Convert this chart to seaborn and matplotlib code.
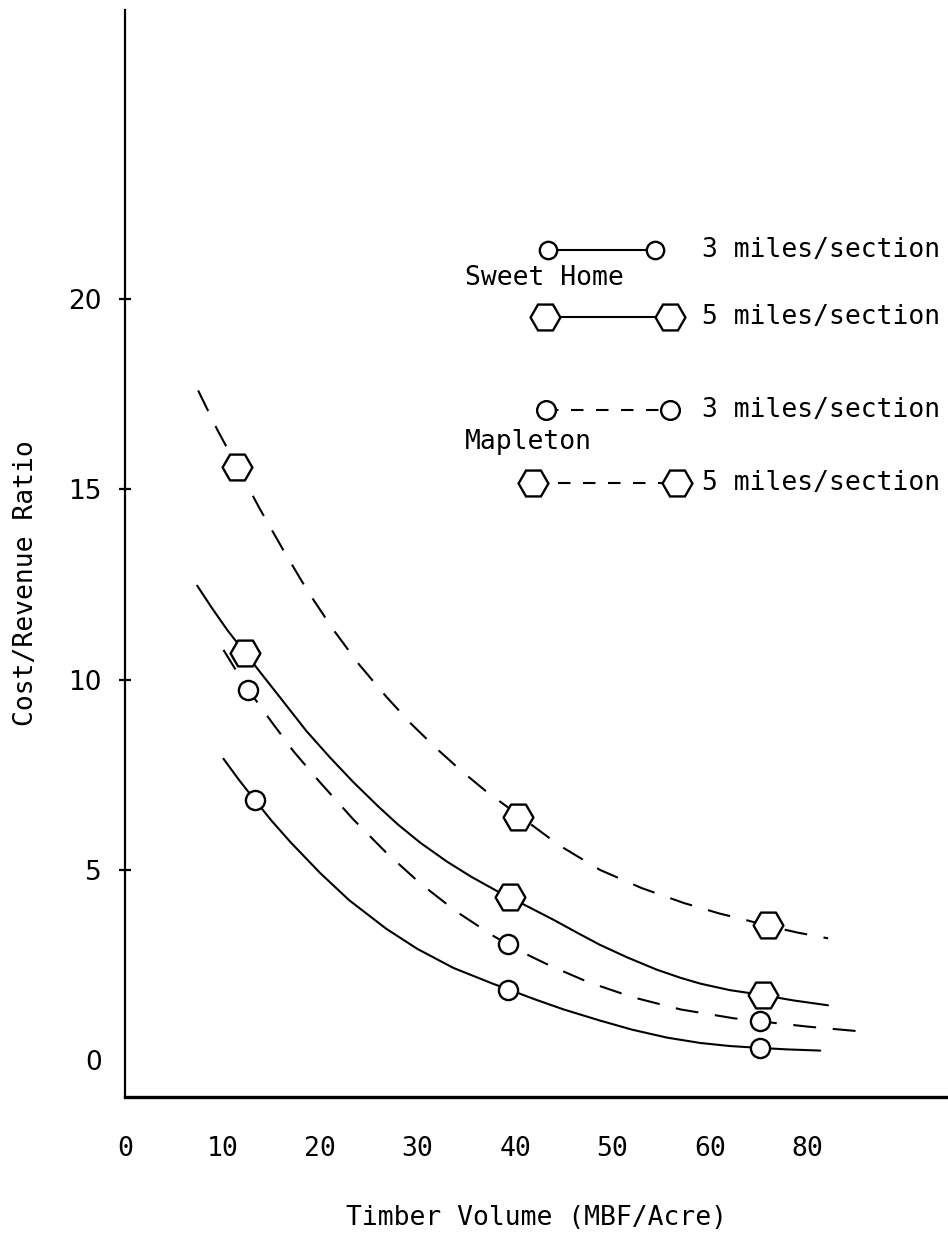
import numpy as np
import pandas as pd
import matplotlib
matplotlib.use("Agg")
import matplotlib.pyplot as plt
import seaborn as sns

# ---------------- data ----------------
# fitted curves, sampled along the drawn lines
sh3_curve_x = [10.1, 11.7, 13.3, 15.0, 17.0, 20.0, 23.0, 26.8, 30.0, 33.7, 37.8, 39.3,
               42.0, 45.0, 48.7, 52.0, 55.6, 59.0, 62.0, 65.1, 68.0, 71.3]
sh3_curve_y = [7.92, 7.36, 6.84, 6.30, 5.72, 4.92, 4.20, 3.45, 2.92, 2.42, 2.00, 1.86,
               1.60, 1.33, 1.04, 0.80, 0.59, 0.45, 0.37, 0.32, 0.28, 0.25]

sh5_curve_x = [7.4, 9.0, 10.5, 12.3, 14.0, 16.0, 18.6, 21.0, 23.4, 26.0, 28.0, 30.3,
               33.0, 35.5, 38.1, 39.5, 41.2, 44.0, 46.5, 48.7, 51.5, 54.5, 57.0, 59.0,
               62.0, 65.4, 68.5, 72.1]
sh5_curve_y = [12.47, 11.85, 11.30, 10.71, 10.15, 9.50, 8.65, 7.96, 7.31, 6.66, 6.19, 5.71,
               5.22, 4.82, 4.45, 4.27, 4.05, 3.68, 3.33, 3.03, 2.70, 2.38, 2.16, 2.01,
               1.84, 1.71, 1.57, 1.44]

map3_curve_x = [10.1, 11.4, 12.65, 15.0, 17.3, 20.0, 23.4, 26.8, 30.3, 34.0, 37.8, 39.3,
                41.5, 43.6, 47.5, 52.1, 57.0, 62.4, 65.1, 70.0, 75.6]
map3_curve_y = [10.78, 10.24, 9.73, 8.90, 8.11, 7.30, 6.33, 5.45, 4.64, 3.90, 3.26, 3.04,
                2.74, 2.48, 2.05, 1.65, 1.33, 1.10, 1.02, 0.88, 0.75]

map5_curve_x = [7.5, 9.5, 11.5, 13.8, 16.2, 18.8, 21.4, 24.0, 26.8, 29.3, 31.9, 34.5,
                37.1, 40.3, 44.5, 48.7, 53.0, 57.3, 61.0, 63.4, 65.9, 69.0, 72.1]
map5_curve_y = [17.6, 16.55, 15.6, 14.5, 13.42, 12.3, 11.3, 10.4, 9.55, 8.85, 8.2, 7.6,
                7.05, 6.45, 5.65, 5.0, 4.52, 4.13, 3.85, 3.70, 3.53, 3.35, 3.2]

# observed points (markers)
sh3_pts_x = [13.3, 39.3, 65.1]
sh3_pts_y = [6.84, 1.84, 0.33]
sh5_pts_x = [12.3, 39.5, 65.4]
sh5_pts_y = [10.71, 4.28, 1.71]
map3_pts_x = [12.65, 39.3, 65.1]
map3_pts_y = [9.73, 3.04, 1.04]
map5_pts_x = [11.5, 40.3, 65.9]
map5_pts_y = [15.6, 6.40, 3.55]

x_tick_pos = [0, 10, 20, 30, 40, 50, 60, 70]
x_tick_labels = ["0", "10", "20", "30", "40", "50", "60", "80"]
y_ticks = [0, 5, 10, 15, 20]

series_names = ["SH3", "SH5", "M3", "M5"]
legend_labels = ["3 miles/section", "5 miles/section", "3 miles/section", "5 miles/section"]
group_labels = ["Sweet Home", "Mapleton"]

# ---------------- build tables ----------------
curves = pd.concat([
    pd.DataFrame({"x": sh3_curve_x, "y": sh3_curve_y, "s": "SH3"}),
    pd.DataFrame({"x": sh5_curve_x, "y": sh5_curve_y, "s": "SH5"}),
    pd.DataFrame({"x": map3_curve_x, "y": map3_curve_y, "s": "M3"}),
    pd.DataFrame({"x": map5_curve_x, "y": map5_curve_y, "s": "M5"}),
], ignore_index=True)
points = {
    "SH3": pd.DataFrame({"x": sh3_pts_x, "y": sh3_pts_y}),
    "SH5": pd.DataFrame({"x": sh5_pts_x, "y": sh5_pts_y}),
    "M3": pd.DataFrame({"x": map3_pts_x, "y": map3_pts_y}),
    "M5": pd.DataFrame({"x": map5_pts_x, "y": map5_pts_y}),
}

sns.set_style("white")
MONO = ["DejaVu Sans Mono"]
plt.rcParams["font.family"] = ["DejaVu Sans Mono", "DejaVu Sans"]
plt.rcParams["text.color"] = "black"
plt.rcParams["axes.labelcolor"] = "black"
plt.rcParams["xtick.color"] = "black"
plt.rcParams["ytick.color"] = "black"

W, H = 948, 1247
fig = plt.figure(figsize=(W / 100, H / 100), dpi=100)
fig.patch.set_facecolor("white")
ax = fig.add_axes([125 / W, 150 / H, 823 / W, 1087 / H])
ax.set_facecolor("white")

LW = 1.5
DASH = (11, 8)
style = {
    "SH3": dict(dashes=False, marker="o", s=190),
    "SH5": dict(dashes=False, marker="H", s=460),
    "M3": dict(dashes=True, marker="o", s=190),
    "M5": dict(dashes=True, marker="H", s=460),
}

for name in series_names:
    d = curves[curves["s"] == name]
    sns.lineplot(data=d, x="x", y="y", ax=ax, color="black", lw=LW,
                 sort=False, estimator=None, legend=False)
    ln = ax.lines[-1]
    ln.set_solid_joinstyle("round")
    if style[name]["dashes"]:
        ln.set_dashes(DASH)
    sns.scatterplot(data=points[name], x="x", y="y", ax=ax,
                    marker=style[name]["marker"], s=style[name]["s"],
                    facecolor="white", edgecolor="black", linewidth=1.7,
                    zorder=5, legend=False)

# ---------------- custom legend (drawn in axes fraction) ----------------
leg_rows = [
    # (x0, x1, y, marker, ms, dashed)
    (0.514, 0.644, 0.779, "o", 12.5, False),
    (0.510, 0.662, 0.718, "H", 21.5, False),
    (0.512, 0.662, 0.632, "o", 13.5, True),
    (0.496, 0.671, 0.565, "H", 21.5, True),
]
for (x0, x1, yy, mk, ms, dashed), lab in zip(leg_rows, legend_labels):
    l, = ax.plot([x0, x1], [yy, yy], transform=ax.transAxes, color="black",
                 lw=LW, marker=mk, ms=ms, mfc="white", mec="black", mew=1.7,
                 clip_on=False, zorder=5)
    if dashed:
        l.set_dashes((6, 6))
    ax.text(0.701, yy, lab, transform=ax.transAxes, ha="left", va="center",
            fontsize=19, family=MONO, color="black")
ax.text(0.413, 0.753, group_labels[0], transform=ax.transAxes, ha="left",
        va="center", fontsize=19, family=MONO, color="black")
ax.text(0.413, 0.603, group_labels[1], transform=ax.transAxes, ha="left",
        va="center", fontsize=19, family=MONO, color="black")

# ---------------- axes ----------------
ax.set_xlim(0, 84.4)
ax.set_ylim(-0.97, 27.6)
ax.set_xticks(x_tick_pos)
ax.set_xticklabels(x_tick_labels, fontsize=19, family=MONO, color="black")
ax.set_yticks(y_ticks)
ax.set_yticklabels([str(v) for v in y_ticks], fontsize=19, family=["DejaVu Sans"],
                   color="black")
ax.tick_params(axis="x", length=0, pad=28)
ax.tick_params(axis="y", direction="inout", length=9, width=1.6, pad=12, left=True)
# the original shows no tick mark at 0
ax.yaxis.get_major_ticks()[0].tick1line.set_visible(False)

ax.set_xlabel("Timber Volume (MBF/Acre)", fontsize=19, family=MONO, color="black")
ax.set_ylabel("Cost/Revenue Ratio", fontsize=19, family=MONO, color="black")
ax.xaxis.set_label_coords(0.5, -0.099)
ax.yaxis.set_label_coords(-0.1045, 0.473)
ax.xaxis.label.set_va("top")

for side in ["top", "right"]:
    ax.spines[side].set_visible(False)
ax.spines["left"].set_linewidth(1.6)
ax.spines["bottom"].set_linewidth(2.4)
ax.spines["left"].set_color("black")
ax.spines["bottom"].set_color("black")
ax.grid(False)

fig.savefig("out.png", dpi=100, facecolor="white")
